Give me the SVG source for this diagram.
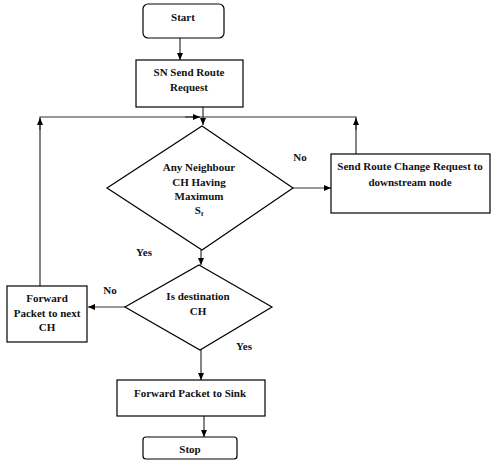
<svg xmlns="http://www.w3.org/2000/svg" width="491" height="460" viewBox="0 0 491 460">
<defs>
<marker id="ah" markerWidth="8" markerHeight="8" refX="7" refY="4" orient="auto" markerUnits="userSpaceOnUse">
<path d="M0,1 L7,4 L0,7 Z" fill="#000"/>
</marker>
</defs>
<style>
.box{fill:#fff;stroke:#000;stroke-width:1.2}
.t{font-family:"Liberation Serif","Times New Roman",serif;font-weight:bold;font-size:11px;fill:#111;text-anchor:middle}
.c{fill:none;stroke:#333;stroke-width:1.2}
.ca{fill:none;stroke:#333;stroke-width:1.2;marker-end:url(#ah)}
</style>
<rect width="491" height="460" fill="#fff"/>
<g id="connectors">
<path class="ca" d="M180,38 V60"/>
<path class="ca" d="M203,107 V125"/>
<path class="c" d="M40,286 V117 H356 V154"/>
<path class="ca" d="M40,130 V118"/>
<path class="ca" d="M185,117 H200"/>
<path class="ca" d="M356,130 V118"/>
<path class="ca" d="M293,188 H331"/>
<path class="ca" d="M201,250 V265"/>
<path class="ca" d="M125,307 H88"/>
<path class="ca" d="M201,350 V380"/>
<path class="ca" d="M204,416 V437"/>
<text class="t" x="300" y="161">No</text>
<text class="t" x="144" y="256">Yes</text>
<text class="t" x="110" y="294">No</text>
<text class="t" x="244" y="350">Yes</text>
</g>
<g id="start">
<rect class="box" x="143" y="4" width="81" height="34" rx="5"/>
<text class="t" x="183" y="21">Start</text>
</g>
<g id="sn-send">
<rect class="box" x="136" y="60" width="107" height="47"/>
<text class="t" x="189" y="76">SN Send Route</text>
<text class="t" x="189" y="91">Request</text>
</g>
<g id="decision-neighbour">
<polygon class="box" points="202,126 293,188 202,250 107,188"/>
<text class="t" x="199" y="171">Any Neighbour</text>
<text class="t" x="199" y="186">CH Having</text>
<text class="t" x="199" y="200">Maximum</text>
<text class="t" x="199" y="214">S<tspan font-size="7" dy="2">f</tspan></text>
</g>
<g id="route-change">
<rect class="box" x="331" y="154" width="159" height="59"/>
<text class="t" x="410" y="170">Send Route Change Request to</text>
<text class="t" x="410" y="186">downstream node</text>
</g>
<g id="decision-destination">
<polygon class="box" points="199,265 272,307 200,350 125,307"/>
<text class="t" x="198" y="300">Is destination</text>
<text class="t" x="198" y="315">CH</text>
</g>
<g id="forward-next">
<rect class="box" x="7" y="286" width="80" height="56"/>
<text class="t" x="47" y="302">Forward</text>
<text class="t" x="47" y="317">Packet to next</text>
<text class="t" x="47" y="331">CH</text>
</g>
<g id="forward-sink">
<rect class="box" x="117" y="380" width="148" height="36"/>
<text class="t" x="190" y="397">Forward Packet to Sink</text>
</g>
<g id="stop">
<rect class="box" x="143" y="437" width="94" height="22" rx="3"/>
<text class="t" x="190" y="453">Stop</text>
</g>
</svg>
